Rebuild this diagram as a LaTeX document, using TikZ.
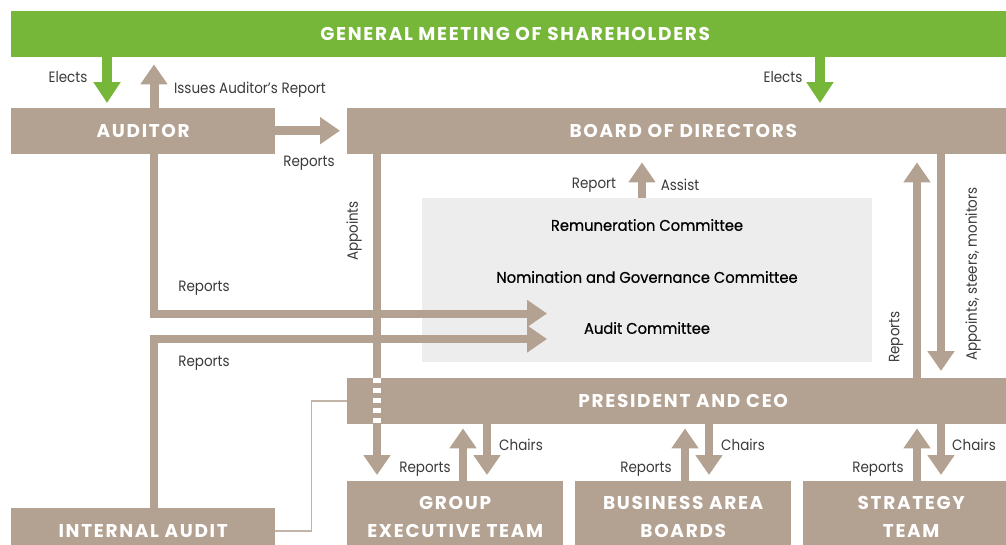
\documentclass[tikz,border=0pt]{standalone}
\usepackage{fontspec}
\setmainfont{Poppins}
\newfontfamily\lblfont[FakeStretch=0.9]{Poppins}
\newfontfamily\boxfont[LetterSpace=9]{Poppins}
\newfontfamily\commfont[FakeStretch=0.95,FakeBold=0.7]{Poppins}
\usetikzlibrary{arrows.meta,calc}
\definecolor{tan}{HTML}{B3A191}
\definecolor{tanlight}{HTML}{C2B4A7}
\definecolor{grn}{HTML}{76B73A}
\definecolor{cbox}{HTML}{EDEDED}
\definecolor{lbl}{HTML}{3A3A3A}
\begin{document}
\begin{tikzpicture}[x=1pt,y=-1pt,
  box/.style={fill=tan,text=white,anchor=north west,inner sep=0,align=center,font=\boxfont\fontsize{18.5}{28}\selectfont\bfseries},
  lab/.style={text=lbl,inner sep=0,font=\lblfont\fontsize{15}{18}\selectfont},
  comm/.style={text=black,inner sep=0,font=\commfont\fontsize{15.5}{19}\selectfont},
  big/.style={draw=tan,line width=9pt,-{Triangle[width=26pt,length=20pt]}},
  mid/.style={draw=tan,line width=8pt,-{Triangle[width=26pt,length=20pt]}},
  gbig/.style={draw=grn,line width=10pt,-{Triangle[width=26pt,length=21pt]}},
]
\useasboundingbox (0,0) rectangle (1006,544);
\clip (0,0) rectangle (1006,544);
% boxes
\node[box,fill=grn,minimum width=1008pt,minimum height=46pt] (gms) at (11,11) {GENERAL MEETING OF SHAREHOLDERS};
\node[box,minimum width=264pt,minimum height=46pt] (aud) at (11,108) {AUDITOR};
\node[box,minimum width=672pt,minimum height=46pt] (bod) at (347,108) {BOARD OF DIRECTORS};
\node[fill=cbox,anchor=north west,minimum width=450pt,minimum height=164pt,inner sep=0] (cbx) at (422,198) {};
\node[comm] (rem) at (647,225) {Remuneration Committee};
\node[comm] (nom) at (647,277) {Nomination and Governance Committee};
\node[comm] (audc) at (647,328) {Audit Committee};
\node[box,minimum width=672pt,minimum height=46pt] (ceo) at (347,378) {PRESIDENT AND CEO};
\node[box,minimum width=216pt,minimum height=72pt] (get) at (347,481) {GROUP\\EXECUTIVE TEAM};
\node[box,minimum width=216pt,minimum height=72pt] (bab) at (575,481) {BUSINESS AREA\\BOARDS};
\node[box,minimum width=216pt,minimum height=72pt] (st) at (803,481) {STRATEGY\\TEAM};
\node[box,minimum width=264pt,minimum height=46pt] (ia) at (11,508) {INTERNAL AUDIT};
% connectors
\draw[gbig] ($(gms.south west)+(96,0)$) -- ($(aud.north west)+(96,-5)$);
\draw[big] ($(aud.north west)+(143,0)$) -- ($(gms.south west)+(143,7)$);
\draw[gbig] ($(gms.south west)+(809,0)$) -- ($(bod.north west)+(473,-5)$);
\draw[big] ($(aud.east)+(0,-0.5)$) -- ($(bod.west)+(-7,-0.5)$);
\draw[mid] ($(aud.south west)+(143,0)$) |- ($(cbx.north west)+(125,115.5)$);
\draw[mid] ($(ia.north west)+(143,0)$) |- ($(cbx.north west)+(125,141)$);
\draw[mid] ($(bod.south west)+(30,0)$) -- ($(get.north west)+(30,-6)$);
\draw[white,line width=8pt,dash pattern=on 5pt off 5pt] ($(ceo.north west)+(30,0)$) -- ($(ceo.south west)+(30,0)$);
\draw[mid] ($(cbx.north west)+(220,0)$) -- ($(bod.south west)+(295,8)$);
\draw[mid] ($(ceo.north west)+(570,0)$) -- ($(bod.south west)+(570,8)$);
\draw[mid] ($(bod.south west)+(594,0)$) -- ($(ceo.north west)+(594,-7)$);
\draw[mid] ($(get.north west)+(116,0)$) -- ($(ceo.south west)+(116,4)$);
\draw[mid] ($(ceo.south west)+(140,0)$) -- ($(get.north west)+(140,-6)$);
\draw[mid] ($(bab.north west)+(110,0)$) -- ($(ceo.south west)+(338,4)$);
\draw[mid] ($(ceo.south west)+(362,0)$) -- ($(bab.north west)+(134,-6)$);
\draw[mid] ($(st.north west)+(114,0)$) -- ($(ceo.south west)+(570,4)$);
\draw[mid] ($(ceo.south west)+(594,0)$) -- ($(st.north west)+(138,-6)$);
\draw[tanlight,line width=1.5pt] (ia.east) -- ++(36,0) |- (ceo.west);
% labels
\node[lab] (l1) at (68,77) {Elects};
\node[lab] (l2) at (250,90) {Issues Auditor’s Report};
\node[lab] (l3) at (783,77) {Elects};
\node[lab] (l4) at (309,163) {Reports};
\node[lab,rotate=90] (l5) at (354,231) {Appoints};
\node[lab] (l6) at (204,288) {Reports};
\node[lab] (l7) at (204,363) {Reports};
\node[lab] (l8) at (594,185) {Report};
\node[lab] (l9) at (680,185) {Assist};
\node[lab,rotate=90] (l10) at (896,337) {Reports};
\node[lab,rotate=90] (l11) at (973,274) {Appoints, steers, monitors};
\node[lab] (l12) at (425,469) {Reports};
\node[lab] (l13) at (521,445) {Chairs};
\node[lab] (l14) at (646,469) {Reports};
\node[lab] (l15) at (743,445) {Chairs};
\node[lab] (l16) at (878,469) {Reports};
\node[lab] (l17) at (974,445) {Chairs};
\end{tikzpicture}
\end{document}
